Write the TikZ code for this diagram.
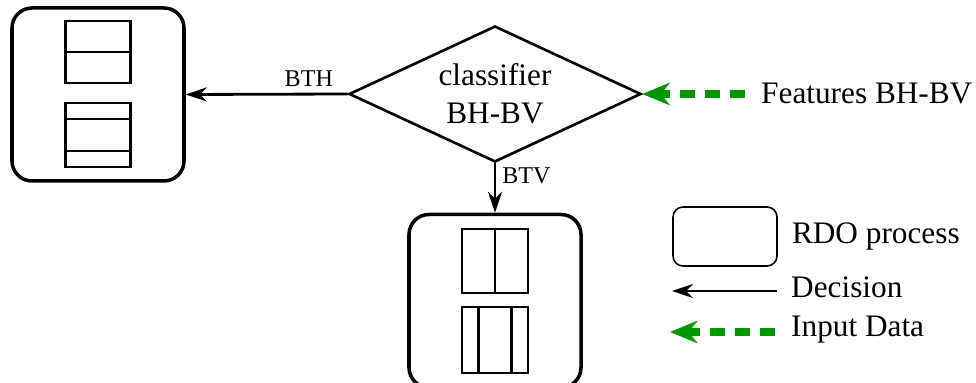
\documentclass[tikz,border=0pt]{standalone}
\usepackage{fontspec}
\setmainfont{Liberation Serif}
\usetikzlibrary{arrows.meta, positioning, shapes.geometric}
\definecolor{datagreen}{RGB}{0,150,0}

\begin{document}
\begin{tikzpicture}[
  rdo/.style={draw, rounded corners=0.4cm, line width=2pt, minimum width=3.44cm, minimum height=3.46cm},
  part/.style={draw, line width=1.4pt},
  decision/.style={-{Stealth[length=0.42cm, width=0.28cm]}, line width=1.6pt},
  inputdata/.style={-{Stealth[length=0.55cm, width=0.45cm]}, draw=datagreen, line width=4pt, dash pattern=on 0.3cm off 0.2cm},
  lbl/.style={font=\fontsize{13.7}{16}\selectfont},
  txt/.style={font=\fontsize{17.8}{21.5}\selectfont}
]
  \useasboundingbox (0,0) rectangle (19.52,7.66);

  \node[rdo] (L) at (1.96, 5.77) {};
  \node[rdo] (B) at (9.90, 1.64) {};
  \node[diamond, draw, line width=1.5pt, inner sep=0pt, aspect=2.15,
        minimum width=5.84cm, minimum height=2.72cm, align=center, txt] (D) at (9.90, 5.78) {classifier\\BH-BV};
  \node[txt, anchor=west] (F) at (15.1, 5.78) {Features BH-BV};

  % Partitions horizontales
  \begin{scope}[shift={(L.center)}]
    \draw[part] (-0.65,0.23) rectangle (0.65,1.47);
    \draw[part] (-0.65,0.85) -- (0.65,0.85);
    \draw[part] (-0.65,-1.45) rectangle (0.65,-0.17);
    \draw[part] (-0.65,-0.49) -- (0.65,-0.49);
    \draw[part] (-0.65,-1.13) -- (0.65,-1.13);
  \end{scope}
  % Partitions verticales
  \begin{scope}[shift={(B.center)}]
    \draw[part] (-0.66,0.16) rectangle (0.66,1.44);
    \draw[part] (0,0.16) -- (0,1.44);
    \draw[part] (-0.66,-1.44) rectangle (0.66,-0.12);
    \draw[part] (-0.33,-1.44) -- (-0.33,-0.12);
    \draw[part] (0.33,-1.44) -- (0.33,-0.12);
  \end{scope}

  % Decisions
  \draw[decision] (D.west) -- node[pos=0.24, above, lbl] {BTH} (L.east);
  \draw[decision] (D.south) -- node[pos=0.25, right, lbl] {BTV} (B.north);
  \draw[inputdata, shorten <=0.2cm] (F.west) -- (D.east);

  % Legende
  \node[draw, rounded corners=0.2cm, line width=0.9pt, minimum width=2.08cm, minimum height=1.18cm] (R) at (14.5, 2.93) {};
  \node[txt, right=0.16cm of R] (RT) {RDO process};
  \node[txt, anchor=west] (Dec) at (15.7, 1.92) {Decision};
  \node[txt, anchor=west] (Inp) at (15.7, 1.06) {Input Data};
  \coordinate (decA) at (15.54, 1.84);
  \coordinate (decB) at (13.44, 1.84);
  \coordinate (inpA) at (15.5, 1.02);
  \coordinate (inpB) at (13.4, 1.02);
  \draw[decision] (decA) -- (decB);
  \draw[inputdata] (inpA) -- (inpB);
\end{tikzpicture}
\end{document}
